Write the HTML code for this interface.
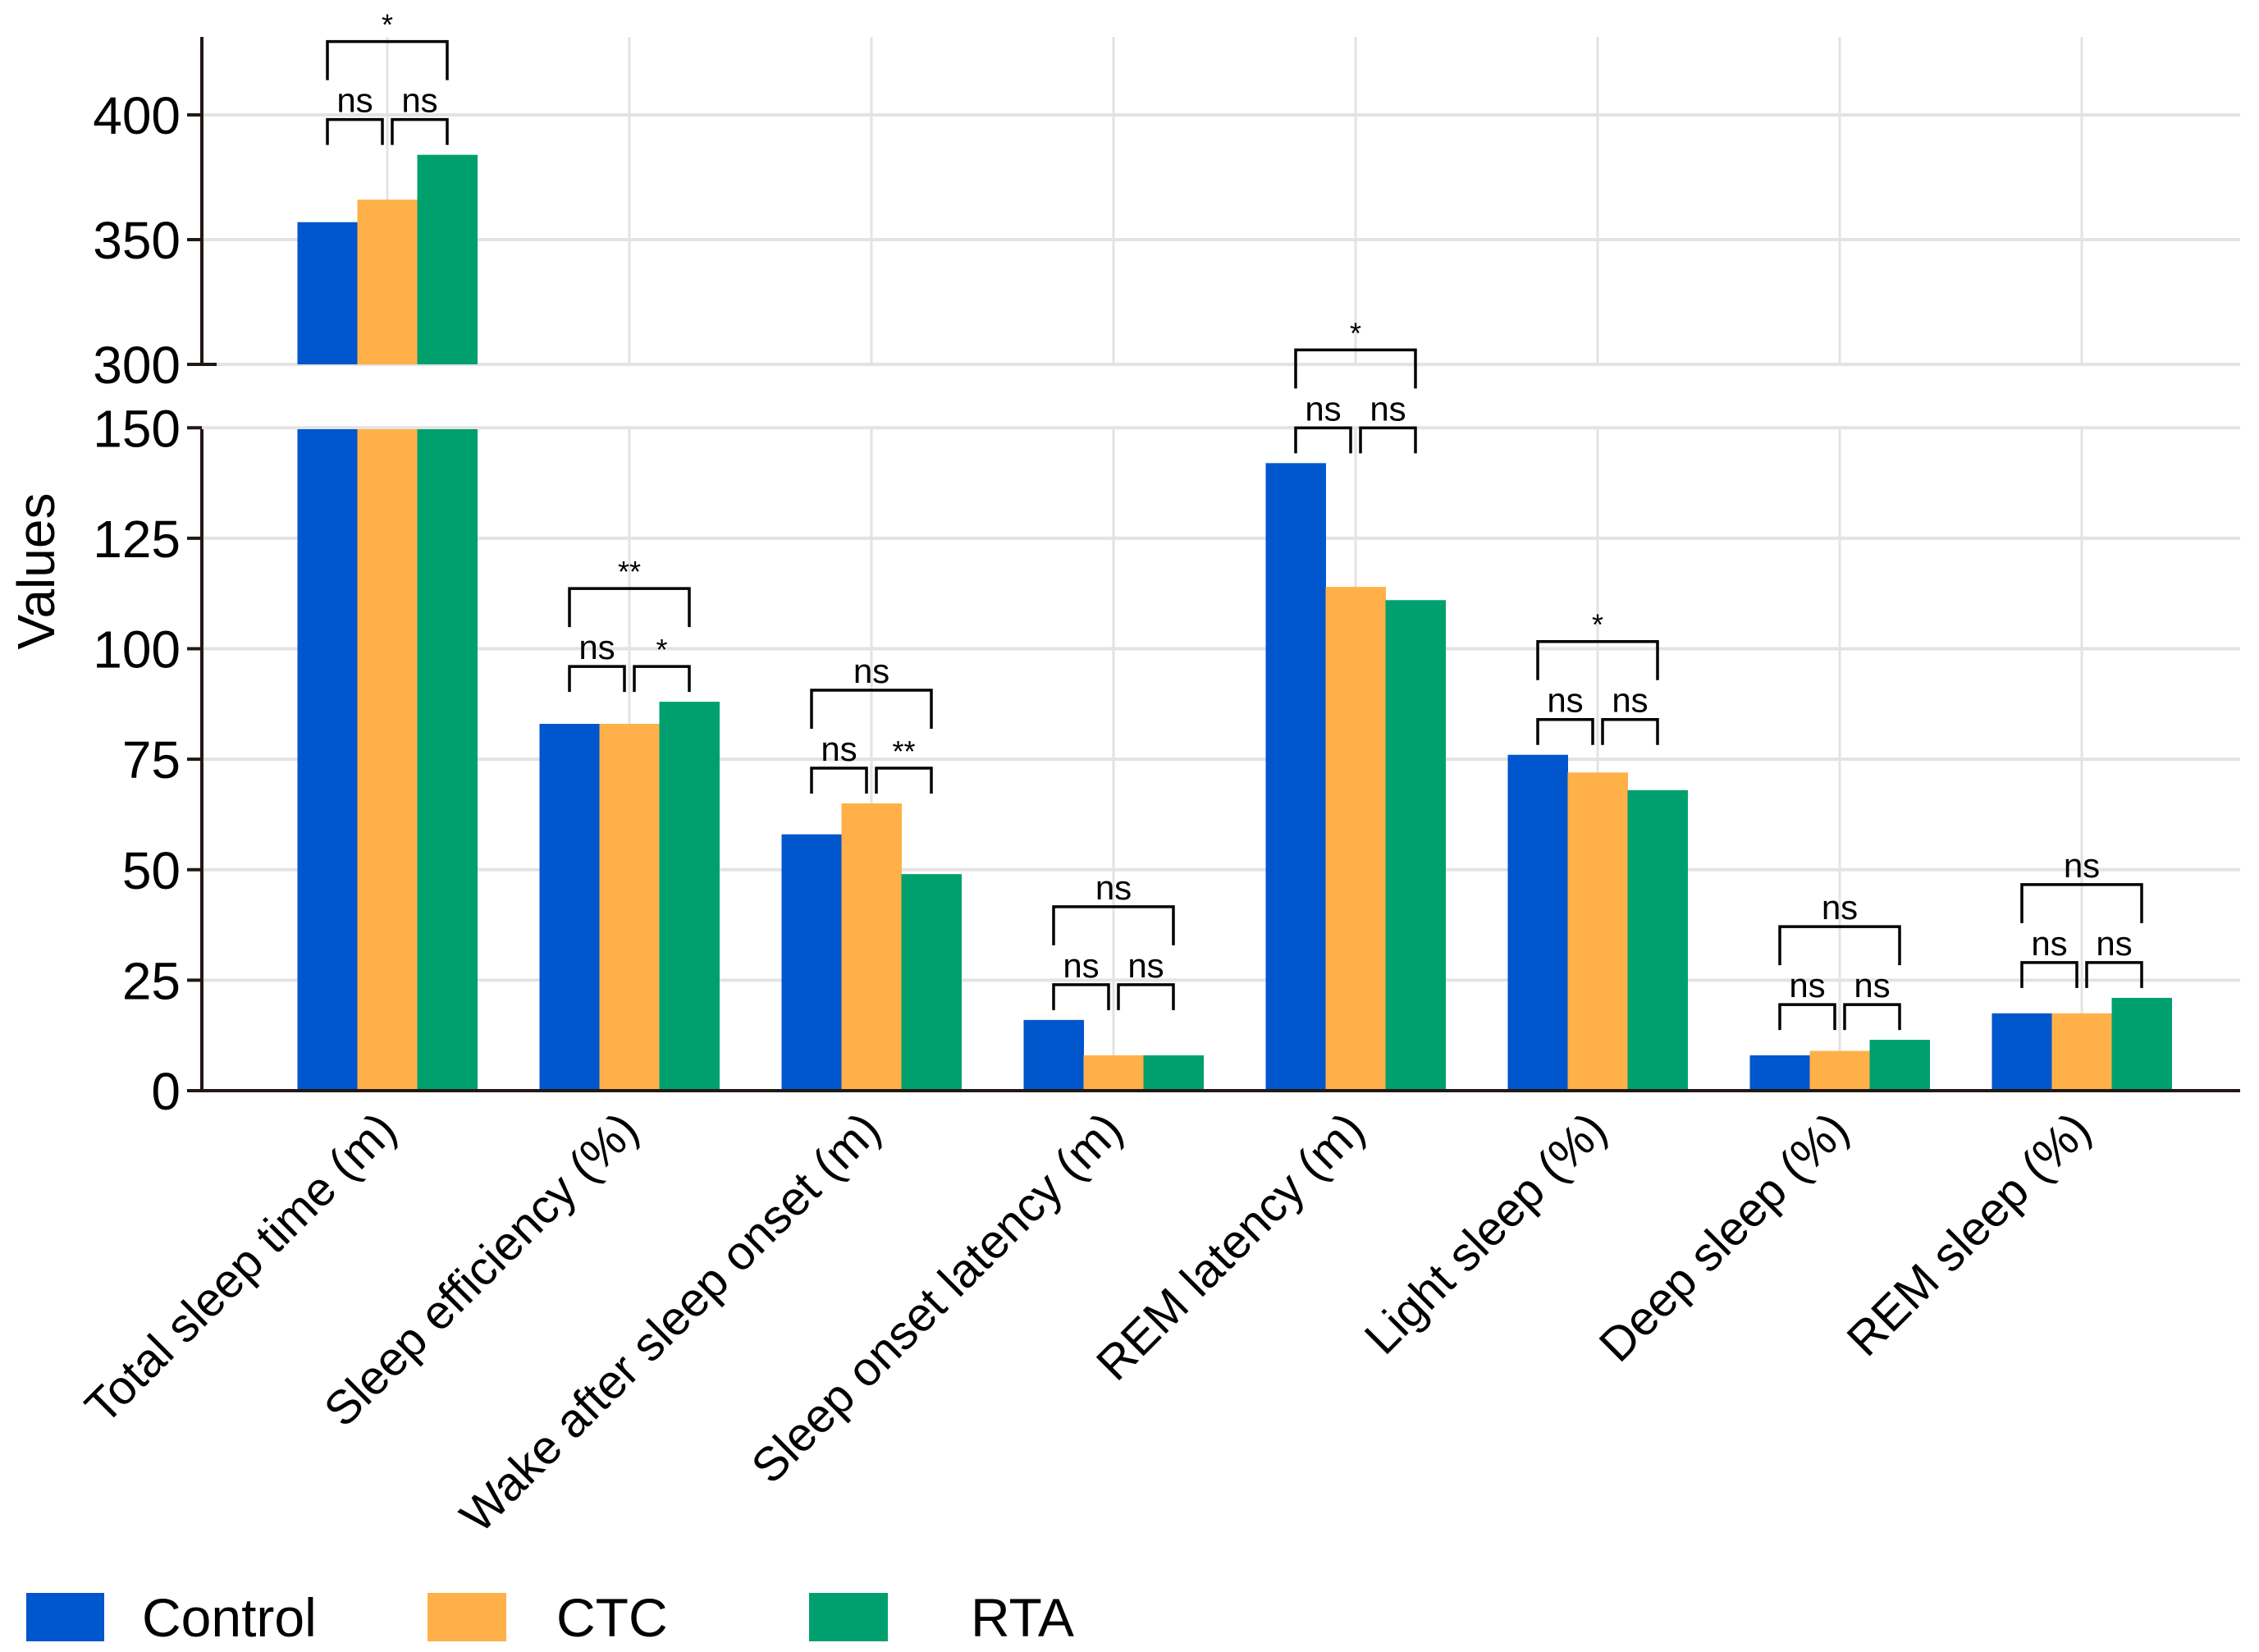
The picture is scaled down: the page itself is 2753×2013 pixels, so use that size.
<!DOCTYPE html>
<html><head><meta charset="utf-8"><style>
html,body{margin:0;padding:0;background:#fff;}
svg{display:block;font-family:"Liberation Sans",sans-serif;}
</style></head><body>
<svg id="chart" width="2753" height="2013" viewBox="0 0 2753 2013" xmlns="http://www.w3.org/2000/svg">
<defs><clipPath id="lowclip"><rect x="246" y="523" width="2500" height="810"/></clipPath>
<clipPath id="topclip"><rect x="246" y="40" width="2500" height="404"/></clipPath></defs>
<g id="grid"></g><g id="bars"></g><g id="axes"></g><g id="annot"></g><g id="labels"></g>
<text x="0" y="0" transform="translate(66,696) rotate(-90)" text-anchor="middle" font-size="64">Values</text>
<g>
<rect x="32" y="1941" width="95" height="59" fill="#0056CC"/>
<text x="173" y="1994" font-size="66">Control</text>
<rect x="521" y="1941" width="96" height="59" fill="#FFB048"/>
<text x="678" y="1994" font-size="66">CTC</text>
<rect x="986" y="1941" width="96" height="59" fill="#00A06E"/>
<text x="1183" y="1994" font-size="66">RTA</text>
</g>
</svg>
<script>
const categories=["Total sleep time (m)","Sleep efficiency (%)","Wake after sleep onset (m)","Sleep onset latency (m)","REM latency (m)","Light sleep (%)","Deep sleep (%)","REM sleep (%)"];
const controlVals=[357,83,58,16,142,76,8,17.5];
const ctcVals=[366,83,65,8,114,72,9,17.5];
const rtaVals=[384,88,49,8,111,68,11.5,21];
const leftSig=["ns","ns","ns","ns","ns","ns","ns","ns"];
const rightSig=["ns","*","**","ns","ns","ns","ns","ns"];
const topSig=["*","**","ns","ns","*","*","ns","ns"];
const lowTicks=[0,25,50,75,100,125,150];
const topTicks=[300,350,400];

const NS="http://www.w3.org/2000/svg";
const colors=["#0056CC","#FFB048","#00A06E"];
const series=[controlVals,ctcVals,rtaVals];
const serNames=["control","ctc","rta"];
const AX=246, AR=2730;
function yLow(v){return 1329-(v)*5.385;}
function yTop(v){return 444-(v-300)*3.04;}
function xc(i){return 472+i*295;}
const BW=73;
function mk(parent,tag,attrs){const e=document.createElementNS(NS,tag);for(const k in attrs)e.setAttribute(k,attrs[k]);document.getElementById(parent).appendChild(e);return e;}
const grid="#e3e3e3";
lowTicks.forEach(t=>{const l=mk('grid','line',{x1:AX,x2:AR,y1:yLow(t),y2:yLow(t),stroke:grid,'stroke-width':4});

});
topTicks.forEach(t=>{const l=mk('grid','line',{x1:AX,x2:AR,y1:yTop(t),y2:yTop(t),stroke:grid,'stroke-width':4});

});
categories.forEach((c,i)=>{
 const a=mk('grid','line',{x1:xc(i),x2:xc(i),y1:45,y2:444,stroke:grid,'stroke-width':3});
 
 
 const b=mk('grid','line',{x1:xc(i),x2:xc(i),y1:523,y2:1329,stroke:grid,'stroke-width':3});
 
 
});
categories.forEach((c,i)=>{
 series.forEach((s,j)=>{
  const x=xc(i)-1.5*BW+j*BW, v=s[i];
  const r=mk('bars','rect',{x:x,y:yLow(v),width:BW+0.5,height:1329-yLow(v),fill:colors[j],'clip-path':'url(#lowclip)'});
  
  
  if(v>300){const r2=mk('bars','rect',{x:x,y:yTop(v),width:BW+0.5,height:444-yTop(v),fill:colors[j],'clip-path':'url(#topclip)'});
  
  }
 });
});
const ax="#231815";
[[AX,45,AX,444],[AX,523,AX,1331],[AX-2,1329,AR,1329]].forEach(p=>{const l=mk('axes','line',{x1:p[0],y1:p[1],x2:p[2],y2:p[3],stroke:ax,'stroke-width':4});

});
lowTicks.forEach(t=>{mk('axes','line',{x1:AX-18,x2:AX,y1:yLow(t),y2:yLow(t),stroke:ax,'stroke-width':4});
 const tx=mk('axes','text',{x:AX-26,y:yLow(t)+23,'text-anchor':'end','font-size':64});tx.textContent=t;
 
 });
topTicks.forEach(t=>{mk('axes','line',{x1:AX-18,x2:t==300?AX+18:AX,y1:yTop(t),y2:yTop(t),stroke:ax,'stroke-width':4});
 const tx=mk('axes','text',{x:AX-26,y:yTop(t)+23,'text-anchor':'end','font-size':64});tx.textContent=t;
 
 });
categories.forEach((c,i)=>{
 const t=mk('labels','text',{x:0,y:0,'text-anchor':'end','font-size':58,transform:`translate(${xc(i)+14},${1380}) rotate(-45)`});
 t.textContent=c;
 
 
});
function bracket(x1,x2,yh,yl1,yl2,label,name){
 const p=mk('annot','path',{d:`M${x1},${yl1} V${yh} H${x2} V${yl2}`,fill:'none',stroke:'#000','stroke-width':3.5});
 
 
 const star=label.indexOf('*')>=0;
 const t=mk('annot','text',{x:(x1+x2)/2,y:star?yh-8:yh-9,'text-anchor':'middle','font-size':star?36:42});
 t.textContent=label;
 
 
}
categories.forEach((c,i)=>{
 const yf=i==0?yTop:yLow;
 const mx=Math.max(controlVals[i],ctcVals[i],rtaVals[i]);
 const top=yf(mx);
 const lh=top-43, ll=top-12;
 const uh=lh-95, ul=lh-48;
 const xb=xc(i)-BW, xo=xc(i), xg=xc(i)+BW;
 bracket(xb,xo-6,lh,ll,ll,leftSig[i],'sig-bracket-left');
 bracket(xo+6,xg,lh,ll,ll,rightSig[i],'sig-bracket-right');
 bracket(xb,xg,uh,ul,ul,topSig[i],'sig-bracket-top');
});
</script>
</body></html>
